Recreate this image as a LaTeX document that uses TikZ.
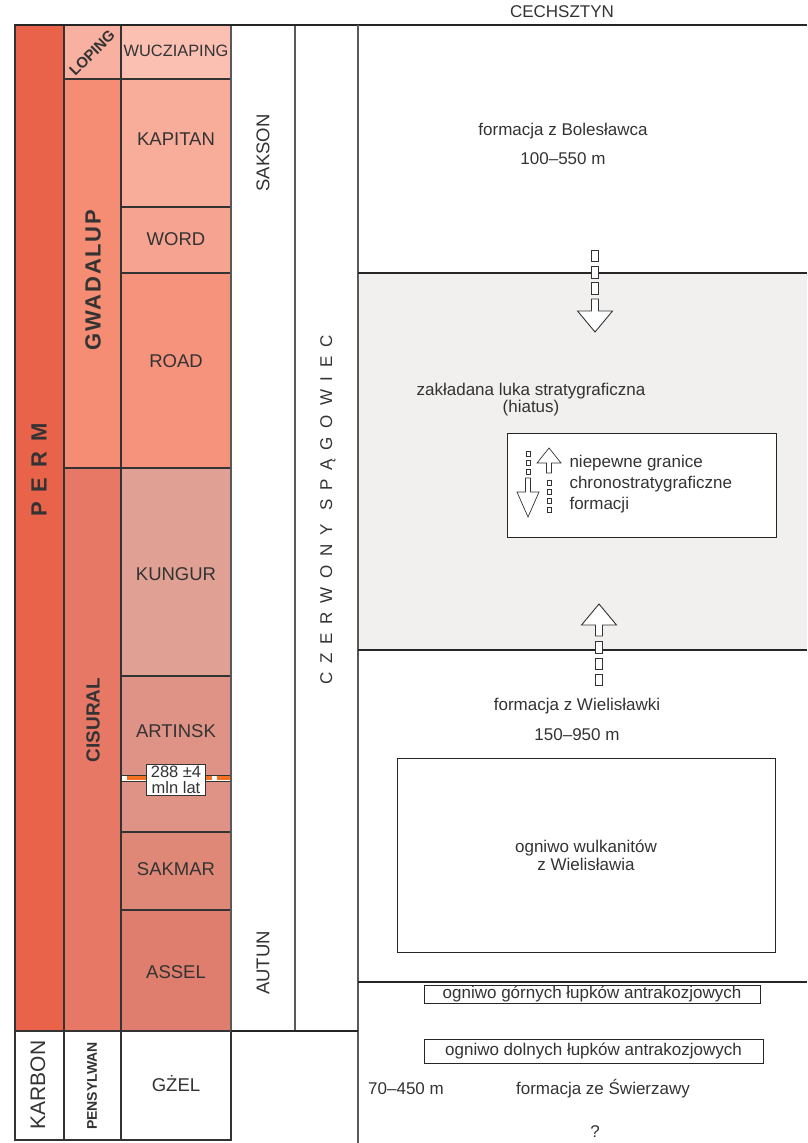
\documentclass[tikz,border=0pt]{standalone}
\usepackage{fontspec}
\setmainfont{Liberation Sans}

\definecolor{txt}{HTML}{333333}
\definecolor{permc}{HTML}{E8634A}
\definecolor{gwadc}{HTML}{F58C74}
\definecolor{cisc}{HTML}{E87866}
\definecolor{lopc}{HTML}{F8B0A0}
\definecolor{wucc}{HTML}{FBC0B2}
\definecolor{kapc}{HTML}{F8AD9B}
\definecolor{wordc}{HTML}{F7A391}
\definecolor{roadc}{HTML}{F5937D}
\definecolor{kungc}{HTML}{E0A194}
\definecolor{artc}{HTML}{DF9386}
\definecolor{sakc}{HTML}{E08877}
\definecolor{assc}{HTML}{DF7E6E}
\definecolor{hiatusc}{HTML}{F1F0EF}
\definecolor{orng}{HTML}{F37021}

\tikzset{
  unitbox/.style={draw=black!80, line width=1.2pt},
  colline/.style={draw=black!65, line width=1.6pt},
  sepline/.style={draw=black!85, line width=1.2pt},
  stagetext/.style={font=\fontsize{18.5}{20}\selectfont},
  seriestext/.style={font=\bfseries\fontsize{19}{20}\selectfont, rotate=90},
  dashbox/.style={draw=black!80, line width=0.9pt, fill=white},
  hollow/.style={draw=black!80, line width=0.9pt, fill=white, line join=miter},
  infobox/.style={draw=black!85, line width=1pt, fill=white},
  plain/.style={font=\fontsize{17}{17}\selectfont, align=center}
}

\begin{document}
\begin{tikzpicture}[x=1pt, y=-1pt, every node/.style={text=txt}]
\useasboundingbox (0,0) rectangle (807,1143);

% draw background of the hiatus
\fill[hiatusc] (358,273) rectangle (807,650);

% draw periods
\draw[unitbox, fill=permc] (15,25) rectangle (64,1031);
\draw[unitbox, fill=white] (15,1031) rectangle (64,1140);
\node[rotate=90, font=\bfseries\fontsize{22}{22}\selectfont\addfontfeatures{LetterSpace=45}] (perm) at (39,470) {PERM};
\node[rotate=90, font=\fontsize{21}{21}\selectfont] (karbon) at (38,1085) {KARBON};

% draw series
\draw[unitbox, fill=lopc] (64,25) rectangle (121,79);
\draw[unitbox, fill=gwadc] (64,79) rectangle (121,468);
\draw[unitbox, fill=cisc] (64,468) rectangle (121,1031);
\draw[unitbox, fill=white] (64,1031) rectangle (121,1140);
\node[rotate=45, inner sep=0pt, font=\bfseries\fontsize{15}{15}\selectfont] (loping) at (92,53) {LOPING};
\node[seriestext, font=\bfseries\fontsize{22}{22}\selectfont\addfontfeatures{LetterSpace=8}] (gwadalup) at (93,280) {GWADALUP};
\node[seriestext] (cisural) at (93,720) {CISURAL};
\node[seriestext, font=\bfseries\fontsize{14}{14}\selectfont] (pensylwan) at (92,1086) {PENSYLWAN};

% draw stages
\draw[unitbox, fill=wucc] (121,25) rectangle (231,79);
\node[font=\fontsize{16.4}{17}\selectfont] (wucziaping) at (176,51) {WUCZIAPING};
\foreach \ya/\yb/\col/\ly/\nm/\lab in {
  79/207/kapc/139/kapitan/KAPITAN,
  207/273/wordc/239/word/WORD,
  273/468/roadc/361/road/ROAD,
  468/676/kungc/574/kungur/KUNGUR,
  676/832/artc/731/artinsk/ARTINSK,
  832/910/sakc/869/sakmar/SAKMAR,
  910/1031/assc/972/assel/ASSEL,
  1031/1140/white/1084/gzel/GŻEL}
{
  \draw[unitbox, fill=\col] (121,\ya) rectangle (231,\yb);
  \node[stagetext] (\nm) at (176,\ly) {\lab};
}

% draw radiometric age
\draw[fill=white, draw=black!80, line width=0.6pt] (121,775) rectangle (231,781);
\draw[orng, line width=4.4pt, dash pattern=on 40pt off 5.3pt, dash phase=40pt] (121.5,778) -- (230.5,778);
\node[draw=black!80, line width=0.8pt, fill=white, align=center, inner xsep=4pt, inner ysep=1.5pt,
  font=\fontsize{16.5}{16}\selectfont] (age) at (176,780) {288 ±4\\mln lat};

% draw regional units
\draw[colline, fill=white] (231,25) rectangle (295,1031);
\draw[colline, fill=white] (295,25) rectangle (358,1031);
\node[rotate=90, stagetext] (sakson) at (263,153) {SAKSON};
\node[rotate=90, stagetext] (autun) at (263,963) {AUTUN};
\node[rotate=90, font=\fontsize{17}{17}\selectfont\addfontfeatures{LetterSpace=52}] (czerwony) at (328,510) {CZERWONY SPĄGOWIEC};

% draw frame of the formations
\draw[sepline] (15,25) -- (807,25);
\draw[colline] (358,25) -- (358,1143);
\draw[sepline] (231,1031) -- (358,1031);
\foreach \y in {273,650,982}
\draw[sepline] (358,\y) -- (807,\y);

\node[plain] (cechsztyn) at (562,12) {CECHSZTYN};

% draw formations
\node[plain] (boleslawiec) at (563,131) {formacja z Bolesławca};
\node[plain] (bolthick) at (563,159) {100–550 m};
\node[plain] (hiatus) at (531,400) {zakładana luka stratygraficzna\\(hiatus)};
\node[plain] (wielislawka) at (577,706) {formacja z Wielisławki};
\node[plain] (wielthick) at (577,735) {150–950 m};
\node[infobox, minimum width=378pt, minimum height=194pt] (wulkanity) at (586,855) {};
\node[plain, font=\fontsize{17}{18}\selectfont] (wulktext) at (586,855) {ogniwo wulkanitów\\z Wielisławia};
\node[infobox, plain, inner sep=0pt, minimum width=336pt, minimum height=18pt] (gorne) at (592,994) {ogniwo górnych łupków antrakozjowych};
\node[infobox, plain, inner sep=0pt, minimum width=339pt, minimum height=24pt] (dolne) at (593.5,1051) {ogniwo dolnych łupków antrakozjowych};
\node[plain, anchor=west, inner sep=0pt] (swierthick) at (368,1089) {70–450 m};
\node[plain] (swierzawa) at (603,1089) {formacja ze Świerzawy};
\node[plain] (unknown) at (595,1132) {?};

% draw uncertain boundaries
\foreach \y in {250,266.5,282.5}
\draw[dashbox] (591.5,\y) rectangle ++(7,11.5);
\draw[hollow] (591.5,299) -- (598.5,299) -- (598.5,311) -- (612.5,311) -- (595,332) -- (577.5,311) -- (591.5,311) -- cycle;
\foreach \y in {641.5,658,674}
\draw[dashbox] (595.5,\y) rectangle ++(7,11.5);
\draw[hollow] (595.5,636) -- (602.5,636) -- (602.5,625) -- (616.5,625) -- (599,604) -- (581.5,625) -- (595.5,625) -- cycle;

% draw legend
\node[infobox, minimum width=269pt, minimum height=104pt] (legend) at (641.5,485) {};
\foreach \y in {451,460,469}
\draw[dashbox, line width=0.7pt] (526,\y) rectangle ++(4,5.5);
\draw[hollow, line width=0.7pt] (525.5,478) -- (530.5,478) -- (530.5,492) -- (539,492) -- (528,517) -- (517,492) -- (525.5,492) -- cycle;
\foreach \y in {480,489,498,507}
\draw[dashbox, line width=0.7pt] (547,\y) rectangle ++(4,5.7);
\draw[hollow, line width=0.7pt] (546.5,473) -- (551.5,473) -- (551.5,463) -- (561,463) -- (549,448) -- (537,463) -- (546.5,463) -- cycle;
\node[plain, anchor=west, align=left, font=\fontsize{17}{21}\selectfont] (legendtext) at (566,484)
  {niepewne granice\\chronostratygraficzne\\formacji};
\end{tikzpicture}
\end{document}
